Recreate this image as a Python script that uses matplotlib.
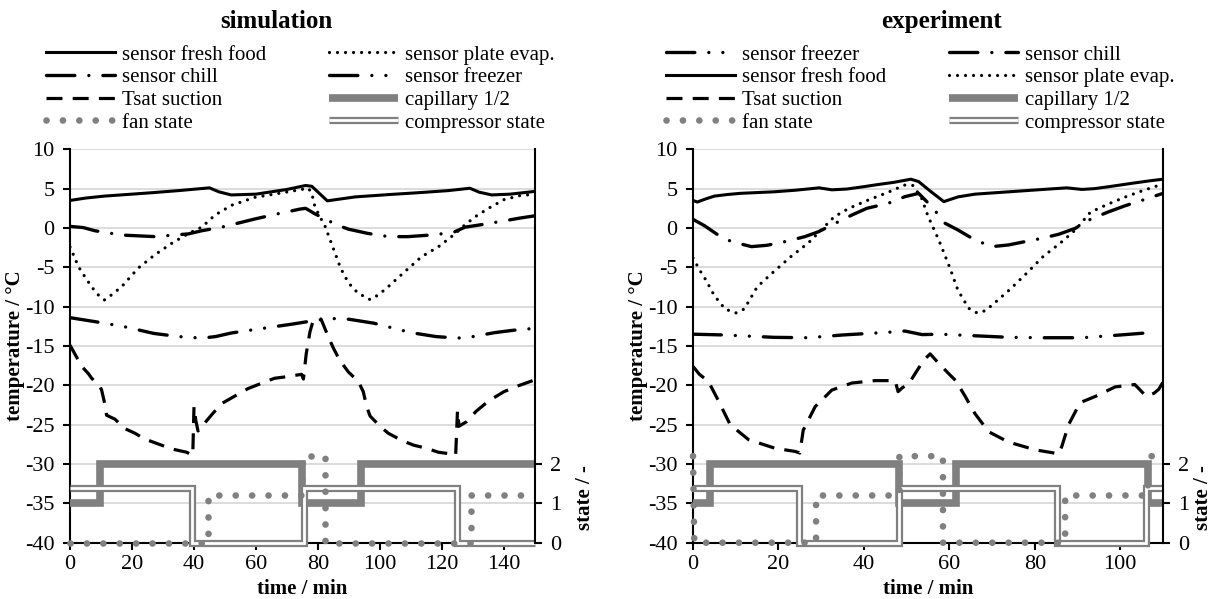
import matplotlib
matplotlib.use('Agg')
import matplotlib.pyplot as plt

plt.rcParams['font.family'] = ['Liberation Serif', 'DejaVu Serif']
plt.rcParams['axes.unicode_minus'] = False
plt.rcParams['font.size'] = 15

# ---------------- simulation data (time / min, temperature / degC) ----------------
sim_fresh_t = [0, 5, 11, 20, 27, 35, 45, 48, 52, 60, 70, 76, 78, 83, 92, 103, 113, 122, 129, 132, 136, 142, 150]
sim_fresh_T = [3.5, 3.8, 4.05, 4.3, 4.5, 4.75, 5.1, 4.6, 4.2, 4.3, 4.9, 5.4, 5.3, 3.45, 3.95, 4.25, 4.5, 4.75,
               5.05, 4.55, 4.2, 4.3, 4.65]

sim_plate_t = [0, 1.1, 2.7, 4.8, 7, 9.1, 11.1, 13.4, 16.7, 22, 27.4, 32.8, 38.2, 42.5, 46.8, 52.2, 59.7, 70.4,
               76.9, 78, 79, 81.2, 82.3, 83.9, 85.5, 87.1, 88.7, 90.9, 93, 96.8, 99.5, 102.7, 108, 113.4, 118.8,
               124.2, 127.4, 131, 135, 140, 145, 150]
sim_plate_T = [-2.4, -3.4, -4.9, -6.2, -7.5, -8.5, -9.15, -8.5, -7.45, -5.1, -3.4, -1.95, -0.7, 0.1, 1.65, 2.9,
               3.9, 4.6, 5.05, 4.4, 2.7, 1.0, 0.2, -1.5, -3.2, -4.9, -6.2, -7.5, -8.3, -9.1, -8.5, -7.45, -5.55,
               -3.65, -2.4, -0.75, 0.4, 1.5, 2.5, 3.6, 4.1, 4.3]

sim_chill_t = [0, 4.3, 8, 16.7, 27.4, 38.2, 42.5, 48.9, 59.7, 67, 74.2, 76, 79, 82.8, 86, 89.8, 96.2, 102.7,
               109, 118, 124, 127.4, 134, 140, 145, 150]
sim_chill_T = [0.2, 0.05, -0.35, -0.9, -1.1, -0.75, -0.35, 0.1, 1.15, 1.8, 2.4, 2.5, 1.8, 1.05, 0.4, -0.15,
               -0.7, -1.1, -1.1, -0.85, -0.5, 0.1, 0.5, 0.9, 1.25, 1.55]

sim_freezer_t = [0, 8, 17, 27, 35, 42.5, 47, 52, 58, 65, 72, 79, 84, 90, 98, 104, 110, 118, 125, 130, 137,
                 143, 150]
sim_freezer_T = [-11.4, -11.9, -12.5, -13.4, -13.8, -14.0, -13.8, -13.35, -13.0, -12.6, -12.2, -11.75, -11.5,
                 -11.6, -12.1, -12.7, -13.3, -13.8, -14.0, -13.8, -13.3, -13.0, -12.75]

sim_tsat_t = [0, 3.8, 5.9, 7, 9.7, 10.2, 11.3, 11.8, 14.5, 17.7, 21, 24, 27.4, 33, 37.6, 39.6, 40, 40.6, 41.3,
              43, 46, 49, 53, 57.5, 62, 66, 70, 74.7, 75.3, 76.2, 77.4, 78.5, 80, 81, 83.3, 85, 87, 89.8, 93,
              94.6, 95.7, 96.8, 100, 102.7, 107, 110.8, 115, 118.8, 122.6, 124.4, 125, 125.5, 128, 131, 135, 140,
              145, 150]
sim_tsat_T = [-14.9, -17.6, -18.5, -19.1, -20.2, -20.6, -22.5, -23.8, -24.3, -25.5, -26.1, -26.8, -27.3, -28.1,
              -28.5, -28.9, -22.7, -24.5, -25.8, -25.0, -23.6, -22.3, -21.4, -20.4, -19.7, -19.1, -18.9, -18.6,
              -19.2, -16.0, -13.2, -11.7, -11.4, -11.6, -13.8, -15.3, -16.8, -18.3, -19.5, -20.8, -22.7, -23.9,
              -25.2, -26.1, -27.0, -27.6, -28.0, -28.5, -28.7, -28.9, -23.2, -25.2, -24.6, -23.3, -22.0, -20.8,
              -20.0, -19.3]

# state curves (state / -)
sim_cap_t = [0, 9.8, 9.8, 74.8, 74.8, 94, 94, 150]
sim_cap_s = [1, 1, 2, 2, 1, 1, 2, 2]
sim_comp_t = [0, 39.5, 39.5, 75.4, 75.4, 124.8, 124.8, 150]
sim_comp_s = [1.4, 1.4, 0, 0, 1.4, 1.4, 0, 0]
sim_fan_t = [0, 44.6, 44.6, 74.7, 74.7, 82.2, 82.2, 129.2, 129.2, 150]
sim_fan_s = [0, 0, 1.2, 1.2, 2.2, 2.2, 0, 0, 1.2, 1.2]

# ---------------- experiment data ----------------
exp_fresh_t = [0, 1, 3, 5, 8, 11, 15, 19, 24, 29.5, 32.5, 36, 40, 43, 47, 51, 52.8, 55.5, 58.7, 62, 66, 70,
               74, 78, 82, 87.5, 91, 94, 98, 103, 107, 110]
exp_fresh_T = [3.5, 3.3, 3.7, 4.05, 4.25, 4.4, 4.5, 4.6, 4.8, 5.1, 4.85, 4.95, 5.25, 5.5, 5.8, 6.2, 5.9, 4.7,
               3.35, 3.95, 4.3, 4.45, 4.6, 4.75, 4.9, 5.1, 4.9, 5.0, 5.3, 5.7, 6.0, 6.2]

exp_plate_t = [0, 1.5, 3, 5, 7.5, 10, 12, 15, 19, 23, 27, 30, 33, 36.5, 41, 45.5, 49.5, 51.5, 53.5, 55, 57.5,
               60, 62, 64.5, 66.5, 68.5, 70, 74, 78, 82, 86, 89.5, 93, 97, 101, 105, 110]
exp_plate_T = [-3.8, -5.3, -6.6, -8.6, -10.3, -10.8, -10.3, -7.5, -5.5, -3.6, -1.9, -0.25, 1.4, 2.5, 3.55, 4.5,
               5.45, 5.4, 3.8, 1.5, -1.5, -4.9, -7.9, -10.2, -10.8, -10.5, -9.8, -7.9, -5.8, -3.6, -1.9, -0.25,
               2.0, 3.0, 3.9, 4.7, 5.6]

exp_chill_t = [0, 2.8, 5.5, 9, 13.7, 17.3, 21.5, 26.2, 29.4, 32.5, 37.2, 40.7, 45.7, 49.6, 52.8, 55.1, 57.5,
               59, 62, 66, 70, 73.8, 78, 81.7, 85.6, 89.5, 92.6, 97, 101, 105, 110]
exp_chill_T = [1.1, 0.25, -0.76, -1.74, -2.37, -2.2, -1.74, -1.1, -0.47, 0.38, 1.65, 2.5, 3.14, 3.98, 4.4,
               3.14, 1.65, 0.6, -0.25, -1.53, -2.37, -2.16, -1.7, -1.31, -0.8, -0.04, 1.0, 2.0, 2.8, 3.5, 4.4]

exp_freezer_t = [0, 7.5, 19, 27, 35, 45.7, 49.6, 53.6, 58, 66, 74, 82, 91, 100, 107]
exp_freezer_T = [-13.5, -13.6, -13.9, -13.95, -13.6, -13.25, -13.1, -13.55, -13.5, -13.7, -13.9, -13.95,
                 -13.95, -13.6, -13.3]

exp_tsat_t = [0, 1.5, 3.6, 5.9, 8.7, 13, 19.2, 23.9, 25, 25.8, 28.6, 32.5, 37.2, 42.6, 47.3, 48, 49, 50.5,
              52, 54, 55.5, 57.5, 60, 61.5, 63.7, 66, 69.2, 73.8, 80.1, 85.6, 86.3, 87.9, 90.6, 94.2, 98.8,
              103.4, 106.1, 107.9, 109, 110]
exp_tsat_T = [-17.6, -18.6, -19.5, -21.9, -25.0, -26.9, -28.0, -28.4, -28.6, -25.7, -22.7, -20.6, -19.7,
              -19.4, -19.4, -20.8, -20.3, -19.8, -18.5, -16.8, -16.0, -17.2, -18.6, -19.4, -21.4, -23.6,
              -25.9, -27.2, -28.2, -28.7, -27.8, -25.0, -22.2, -21.4, -20.2, -19.9, -21.4, -21.0, -20.5, -19.6]

exp_cap_t = [0, 4, 4, 48.3, 48.3, 61.5, 61.5, 106.5, 106.5, 110]
exp_cap_s = [1, 1, 2, 2, 1, 1, 2, 2, 1, 1]
exp_comp_t = [0, 24.7, 24.7, 48.3, 48.3, 85.2, 85.2, 106.1, 106.1, 110]
exp_comp_s = [1.4, 1.4, 0, 0, 1.4, 1.4, 0, 0, 1.4, 1.4]
exp_fan_t = [0, 0.3, 28.8, 28.8, 48.3, 48.3, 58.5, 58.5, 87.1, 87.1, 106.5, 106.5, 110]
exp_fan_s = [2.2, 0, 0, 1.2, 1.2, 2.2, 2.2, 0, 0, 1.2, 1.2, 2.2, 2.2]

GRAY = '#808080'
W, H = 1219, 599


def panel(fig, rect, xmax, xticks, d):
    ax = fig.add_axes(rect)
    h = {}
    h['fresh'], = ax.plot(d['fresh'][0], d['fresh'][1], color='black', lw=2.2)
    h['plate'], = ax.plot(d['plate'][0], d['plate'][1], color='black', lw=2.3, linestyle=(0, (0.01, 2.5)),
                          dash_capstyle='round')
    h['chill'], = ax.plot(d['chill'][0], d['chill'][1], color='black', lw=2.4,
                          linestyle=(0, (8.5, 4.2, 0.01, 4.2)), dash_capstyle='round')
    h['freezer'], = ax.plot(d['freezer'][0], d['freezer'][1], color='black', lw=2.4,
                            linestyle=(0, (8.5, 4.2, 0.01, 4.2, 0.01, 4.2)), dash_capstyle='round')
    h['tsat'], = ax.plot(d['tsat'][0], d['tsat'][1], color='black', lw=2.3, linestyle=(0, (5, 3.2)))

    ax.set_xlim(0, xmax)
    ax.set_ylim(-40, 10)
    ax.set_xticks(xticks)
    ax.set_yticks(range(-40, 11, 5))
    ax.grid(axis='y', color='#d9d9d9', lw=1.3)
    ax.set_axisbelow(True)
    for s in ['top', 'right']:
        ax.spines[s].set_visible(False)
    for s in ['left', 'bottom']:
        ax.spines[s].set_linewidth(1.5)
    ax.tick_params(direction='out', length=5, width=1.5, labelsize=16)
    ax.tick_params(axis='y', pad=6)
    ax.set_xlabel('time / min', fontweight='bold', fontsize=15, labelpad=4)
    ax.set_ylabel('temperature / °C', fontweight='bold', fontsize=15, labelpad=0)

    ax2 = ax.twinx()
    ax2.set_ylim(0, 10)
    ax2.set_yticks([0, 1, 2])
    for s in ['top', 'left', 'bottom']:
        ax2.spines[s].set_visible(False)
    ax2.spines['right'].set_linewidth(1.5)
    ax2.tick_params(direction='out', length=5, width=1.5, labelsize=16, pad=6)
    h['cap'], = ax2.plot(d['cap'][0], d['cap'][1], color=GRAY, lw=5.5, solid_joinstyle='miter',
                         solid_capstyle='butt')
    c_out, = ax2.plot(d['comp'][0], d['comp'][1], color=GRAY, lw=5.2, solid_joinstyle='miter',
                      solid_capstyle='butt')
    c_in, = ax2.plot(d['comp'][0], d['comp'][1], color='white', lw=2.0, solid_joinstyle='miter',
                     solid_capstyle='butt')
    h['comp'] = (c_out, c_in)
    h['fan'], = ax2.plot(d['fan'][0], d['fan'][1], color=GRAY, lw=4.8, linestyle=(0, (0.01, 2.45)),
                         dash_capstyle='round')
    for ln in (h['cap'], c_out, c_in, h['fan']):
        ln.set_clip_on(False)
    ax2.set_ylabel('state / -', fontweight='bold', fontsize=15)
    return ax, ax2, h


names = {'fresh': 'sensor fresh food', 'plate': 'sensor plate evap.', 'chill': 'sensor chill',
         'freezer': 'sensor freezer', 'tsat': 'Tsat suction', 'cap': 'capillary 1/2',
         'comp': 'compressor state', 'fan': 'fan state'}

fig = plt.figure(figsize=(W / 100, H / 100), dpi=100)

sim = dict(fresh=(sim_fresh_t, sim_fresh_T), plate=(sim_plate_t, sim_plate_T), chill=(sim_chill_t, sim_chill_T),
           freezer=(sim_freezer_t, sim_freezer_T), tsat=(sim_tsat_t, sim_tsat_T), cap=(sim_cap_t, sim_cap_s),
           comp=(sim_comp_t, sim_comp_s), fan=(sim_fan_t, sim_fan_s))
exp = dict(fresh=(exp_fresh_t, exp_fresh_T), plate=(exp_plate_t, exp_plate_T), chill=(exp_chill_t, exp_chill_T),
           freezer=(exp_freezer_t, exp_freezer_T), tsat=(exp_tsat_t, exp_tsat_T), cap=(exp_cap_t, exp_cap_s),
           comp=(exp_comp_t, exp_comp_s), fan=(exp_fan_t, exp_fan_s))

axL, axL2, hL = panel(fig, [70 / W, 1 - 542.7 / H, 465 / W, 393.4 / H], 150, range(0, 141, 20), sim)
axR, axR2, hR = panel(fig, [693 / W, 1 - 542.7 / H, 470 / W, 393.4 / H], 110, range(0, 101, 20), exp)
axL2.yaxis.set_label_coords(1.085, 0.116)
axR2.yaxis.set_label_coords(1.063, 0.116)

fig.text(276 / W, 1 - 21.7 / H, 'simulation', ha='center', va='center', fontweight='bold', fontsize=18)
fig.text(942 / W, 1 - 21.7 / H, 'experiment', ha='center', va='center', fontweight='bold', fontsize=18)

leg_kw = dict(loc='upper left', ncol=2, frameon=False, borderpad=0, borderaxespad=0, handlelength=3.3,
              handletextpad=0.36, columnspacing=3.0, labelspacing=0.15, fontsize=15)
orderL = ['fresh', 'chill', 'tsat', 'fan', 'plate', 'freezer', 'cap', 'comp']
orderR = ['freezer', 'fresh', 'tsat', 'fan', 'chill', 'plate', 'cap', 'comp']
fig.legend([hL[k] for k in orderL], [names[k] for k in orderL], bbox_to_anchor=(46 / W, 1 - 45 / H), **leg_kw)
fig.legend([hR[k] for k in orderR], [names[k] for k in orderR], bbox_to_anchor=(666 / W, 1 - 45 / H), **leg_kw)

fig.savefig('out.png', dpi=100)
